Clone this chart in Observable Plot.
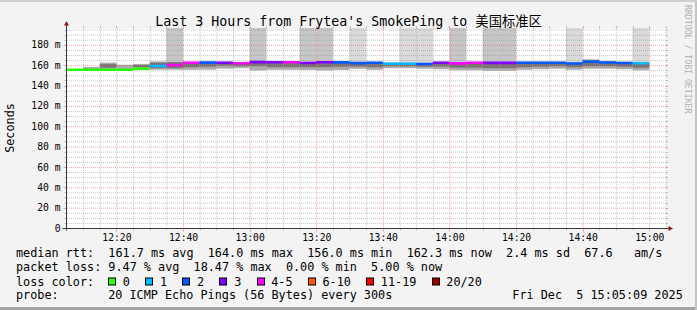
<!DOCTYPE html>
<html><head><meta charset="utf-8">
<script src="https://cdn.jsdelivr.net/npm/d3@7"></script>
<script src="https://cdn.jsdelivr.net/npm/@observablehq/plot@0.6"></script>
<style>
html,body{margin:0;padding:0;background:#f3f3f3;}
#wrap{position:relative;width:697px;height:310px;background:#f3f3f3;overflow:hidden;
  box-shadow:inset 0 2px 0 #d0d0d0, inset -2px 0 0 #c4c4c4, inset 0 -3px 0 #a3a3a3;}
#wrap svg{position:absolute;left:0;top:0;}
</style></head><body><div id="wrap"></div>
<script>
// ---------- data ----------
const windowStart = "12:05:09";
const windowEnd = "15:05:09";
const intervalEnds = ["12:10","12:15","12:20","12:25","12:30","12:35","12:40","12:45","12:50","12:55",
  "13:00","13:05","13:10","13:15","13:20","13:25","13:30","13:35","13:40","13:45",
  "13:50","13:55","14:00","14:05","14:10","14:15","14:20","14:25","14:30","14:35",
  "14:40","14:45","14:50","14:55","15:00"];
const medianRtt = [156.0,156.0,156.0,156.0,157.0,159.6,160.6,162.8,163.0,162.8,
  162.4,163.5,163.3,163.4,162.6,163.3,163.2,162.5,162.8,161.8,
  161.8,161.6,162.8,162.2,162.8,162.7,162.7,162.8,162.8,162.8,
  162.1,164.0,163.1,162.6,162.3];
const lossPct = [0,0,0,0,0,5.0,18.47,16.2,9.0,12.5,
  16.5,13.2,14.0,17.0,11.8,12.9,8.5,9.4,8.7,5.0,
  5.0,9.2,13.6,16.8,16.4,12.2,12.4,8.6,9.1,8.8,
  9.3,8.9,9.0,8.98,5.0];
const smokeLo = [156.0,156.0,156.0,156.0,156.5,155.5,155.5,155.5,155.6,156.5,
  157.0,154.8,155.5,155.5,155.3,154.8,155.3,156.4,155.5,157.0,
  157.0,156.5,156.0,155.0,155.0,154.5,154.5,155.5,156.0,156.5,
  155.5,156.5,156.5,156.0,155.0];
const smokeHi = [156.0,158.2,162.6,160.4,161.2,163.6,163.4,163.3,163.5,163.3,
  163.0,164.0,163.8,163.8,163.2,163.8,163.6,163.2,163.3,162.6,
  162.6,162.5,163.3,163.3,163.3,163.3,163.3,163.4,163.4,163.4,
  163.0,165.7,164.2,163.4,163.0];
const smokeCoreLo = [156.0,156.0,157.5,156.0,158.0,157.0,157.0,158.0,158.5,159.5,
  159.0,159.0,158.0,158.0,158.0,158.0,158.5,158.5,158.0,159.0,
  159.0,158.5,158.5,157.5,157.5,157.0,157.0,158.0,158.5,159.0,
  158.0,159.0,159.0,158.5,157.5];
const smokeCoreHi = [156.0,156.0,161.0,156.0,160.0,162.5,163.0,162.8,163.0,162.8,
  162.0,163.0,163.0,163.0,162.5,163.0,163.0,162.5,162.5,161.8,
  161.8,161.5,162.5,162.0,162.5,162.5,162.5,162.5,162.5,162.5,
  162.0,164.0,163.0,162.5,162.0];
const offscaleLevel = [0,0,0,0,0,0,2,0,0,0,
  0,2,0,0,2,2,0,1,0,0,
  1,1,0,2,0,2,2,0,0,0,
  1,0,0,0,1];
const yTickValues = [0,20,40,60,80,100,120,140,160,180];
const xTickLabels = ["12:20","12:40","13:00","13:20","13:40","14:00","14:20","14:40","15:00"];
const lossBins = ["0","1","2","3","4-5","6-10","11-19","20/20"];
const lossColors = ["#26ff00","#00b8ff","#0059ff","#7e00ff","#ff00ff","#ff5500","#ff0000","#a10000"];
const offscaleColors = [null,"#dadada","#c6c6c6"];
const titleMain = "Last 3 Hours from Frytea's SmokePing to ";
const titleTarget = "美国标准区";
const yLabel = "Seconds";
const statLine1 = "median rtt:  161.7 ms avg  164.0 ms max  156.0 ms min  162.3 ms now  2.4 ms sd  67.6   am/s";
const statLine2 = "packet loss: 9.47 % avg  18.47 % max  0.00 % min  5.00 % now";
const lossLabel = "loss color:";
const probeLabel = "probe:";
const probeText = "20 ICMP Echo Pings (56 Bytes) every 300s";
const stamp = "Fri Dec  5 15:05:09 2025";
const watermark = "RRDTOOL / TOBI OETIKER";

// ---------- build ----------
const T = s => new Date(`2025-12-05T${s.length === 5 ? s + ":00" : s}Z`);
const tStart = T(windowStart), tEnd = T(windowEnd);
const yTop = 196.5;
const binIndex = pct => { const p = pct / 5; return p <= 0 ? 0 : p <= 1 ? 1 : p <= 2 ? 2 : p <= 3 ? 3 : p <= 5 ? 4 : p <= 10 ? 5 : p < 20 ? 6 : 7; };
const rows = intervalEnds.map((e, i) => ({
  end: T(e), start: new Date(+T(e) - 300000),
  median: medianRtt[i], loss: lossPct[i],
  lo: smokeLo[i], hi: smokeHi[i], clo: smokeCoreLo[i], chi: smokeCoreHi[i],
  off: offscaleLevel[i]
}));
const xTicks = xTickLabels.map(T);
const xMinor = d3.utcMinute.every(5).range(tStart, tEnd).filter(d => d.getUTCMinutes() % 20 !== 0);
const yMinor = d3.range(5, yTop, 5).filter(v => v % 20 !== 0);
const gridGray = "#8f8f8f", gridRed = "#de5050", gridOp = 0.5;
const mono = "'DejaVu Sans Mono', monospace";
const nb = s => s.replace(/ /g, "\u00a0");

const plot = Plot.plot({
  width: 697, height: 250,
  marginLeft: 67, marginRight: 30.6, marginTop: 28, marginBottom: 22,
  style: {background: "transparent", fontFamily: mono, fontSize: "9.7px", color: "#000"},
  x: {type: "utc", domain: [tStart, tEnd], label: null},
  y: {domain: [0, yTop], label: null},
  marks: [
    Plot.frame({fill: "white", stroke: "none"}),
    Plot.rect(rows.filter(d => d.off > 0), {x1: "start", x2: "end", y1: "hi", y2: yTop, fill: d => offscaleColors[d.off], clip: true}),
    Plot.rect(rows, {x1: "start", x2: "end", y1: "lo", y2: "hi", fill: "#ababab", clip: true}),
    Plot.rect(rows, {x1: "start", x2: "end", y1: "clo", y2: "chi", fill: "#767676", clip: true}),
    Plot.gridY(yMinor, {stroke: gridGray, strokeOpacity: gridOp, strokeDasharray: "1,1"}),
    Plot.gridX(xMinor, {stroke: gridGray, strokeOpacity: gridOp, strokeDasharray: "1,1"}),
    Plot.gridY(yTickValues, {stroke: gridRed, strokeOpacity: gridOp, strokeDasharray: "1,1"}),
    Plot.gridX(xTicks, {stroke: gridRed, strokeOpacity: gridOp, strokeDasharray: "1,1"}),
    Plot.ruleY(rows, {y: "median", x1: "start", x2: "end", stroke: d => lossColors[binIndex(d.loss)], strokeWidth: 2.6, clip: true}),
    Plot.axisY(yTickValues, {tickSize: 0, tickPadding: 7, tickFormat: d => d === 0 ? "0" : nb(`${d} m`), label: null}),
    Plot.axisX(xTicks, {tickSize: 0, tickPadding: 6, tickFormat: d3.utcFormat("%H:%M"), label: null})
  ]
});
const wrap = document.getElementById("wrap");
wrap.appendChild(plot);

// axes, ticks and arrows (drawn with the plot's scales)
const sx = plot.scale("x"), sy = plot.scale("y");
const svg = d3.select(plot);
const g = svg.append("g");
const X0 = Math.round(sx.apply(tStart)) - 0.5, X1 = Math.round(sx.apply(tEnd));
const Y0 = Math.round(sy.apply(0)) + 0.5, Y1 = Math.round(sy.apply(yTop));
const tickLine = (x1, y1, x2, y2, c) => g.append("line").attr("x1", x1).attr("y1", y1).attr("x2", x2).attr("y2", y2)
  .attr("stroke", c).attr("stroke-opacity", gridOp);
yMinor.forEach(v => { const y = Math.round(sy.apply(v)) + 0.5; tickLine(X0 - 2, y, X0, y, gridGray); tickLine(X1, y, X1 + 2, y, gridGray); });
yTickValues.forEach(v => { const y = Math.round(sy.apply(v)) + 0.5; tickLine(X0 - 3, y, X0, y, gridRed); tickLine(X1, y, X1 + 2, y, gridRed); });
xMinor.forEach(t => { const x = Math.round(sx.apply(t)) + 0.5; tickLine(x, Y0, x, Y0 + 2, gridGray); tickLine(x, Y1 - 2, x, Y1, gridGray); });
xTicks.forEach(t => { const x = Math.round(sx.apply(t)) + 0.5; tickLine(x, Y0, x, Y0 + 3, gridRed); tickLine(x, Y1 - 2, x, Y1, gridRed); });
g.append("line").attr("x1", X0).attr("x2", X0).attr("y1", Y0 + 2).attr("y2", Y1 - 3).attr("stroke", "#3a3a3a");
g.append("line").attr("x1", X0 - 4).attr("x2", X1 + 3).attr("y1", Y0).attr("y2", Y0).attr("stroke", "#3a3a3a");
g.append("path").attr("d", `M${X0 - 2.5},${Y1 - 2.5}L${X0 + 2.5},${Y1 - 2.5}L${X0},${Y1 - 7}Z`).attr("fill", "#8b1a1a");
g.append("path").attr("d", `M${X1 + 2.5},${Y0 - 2.5}L${X1 + 2.5},${Y0 + 2.5}L${X1 + 7},${Y0}Z`).attr("fill", "#8b1a1a");

// ---------- titles / legend ----------
const ov = d3.create("svg").attr("width", 697).attr("height", 310).style("font-family", mono);
const title = ov.append("text").attr("x", 348.5).attr("y", 26).attr("text-anchor", "middle").attr("font-size", 13.3).attr("fill", "#000");
title.append("tspan").text(nb(titleMain));
title.append("tspan").style("font-family", "'Noto Sans CJK SC', sans-serif").text(titleTarget);
ov.append("text").attr("transform", "translate(14,128) rotate(-90)").attr("text-anchor", "middle")
  .attr("font-size", 11.8).text(yLabel);
ov.append("text").attr("transform", "translate(685,5) rotate(90)").attr("font-size", 8.2)
  .attr("fill", "#b0b0b0").text(nb(watermark));
const lf = 11.8, cw = 7.09, lx = 16;
ov.append("text").attr("x", lx).attr("y", 257.3).attr("font-size", lf).text(nb(statLine1));
ov.append("text").attr("x", lx).attr("y", 271.4).attr("font-size", lf).text(nb(statLine2));
ov.append("text").attr("x", lx).attr("y", 285.5).attr("font-size", lf).text(nb(lossLabel));
let sxp = lx + 13 * cw;
lossBins.forEach((b, i) => {
  ov.append("rect").attr("x", Math.round(sxp) + 0.5).attr("y", 278).attr("width", 7).attr("height", 7)
    .attr("fill", lossColors[i]).attr("stroke", "#000");
  ov.append("text").attr("x", sxp + 14.7).attr("y", 285.5).attr("font-size", lf).text(b);
  sxp += 30 + cw * b.length;
});
ov.append("text").attr("x", lx).attr("y", 299.4).attr("font-size", lf).text(probeLabel);
ov.append("text").attr("x", lx + 13 * cw).attr("y", 299.4).attr("font-size", lf).text(nb(probeText));
ov.append("text").attr("x", lx + 70 * cw).attr("y", 299.4).attr("font-size", lf).text(nb(stamp));
wrap.appendChild(ov.node());
</script></body></html>
